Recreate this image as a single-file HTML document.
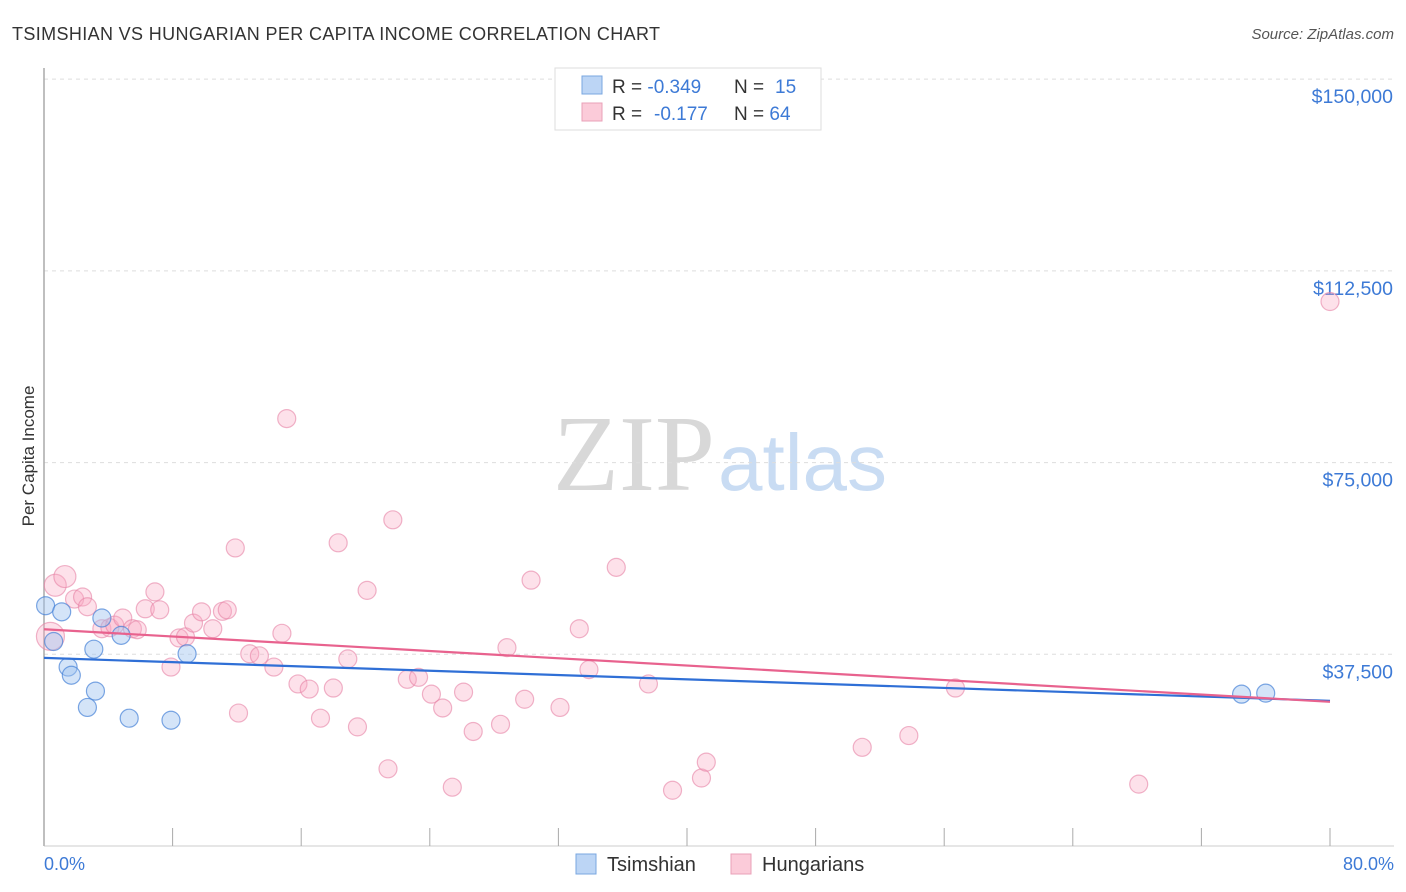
<!DOCTYPE html>
<html><head><meta charset="utf-8"><style>
body{margin:0;background:#fff;font-family:"Liberation Sans",sans-serif}
svg{display:block}
</style></head><body>
<svg width="1406" height="892" xmlns="http://www.w3.org/2000/svg">
<text x="12" y="40" font-size="18" fill="#333" textLength="648">TSIMSHIAN VS HUNGARIAN PER CAPITA INCOME CORRELATION CHART</text>
<text x="1394" y="39" font-size="15" fill="#555" text-anchor="end" font-style="italic">Source: ZipAtlas.com</text>
<text x="715" y="490" font-size="108" fill="#d8d8d8" text-anchor="end" font-family="Liberation Serif,serif">ZIP</text>
<text x="718" y="490" font-size="80" fill="#c9dcf3">atlas</text>
<g id="grid"></g>
<line x1="44" y1="68" x2="44" y2="846" stroke="#aaa" stroke-width="1.5"/>
<line x1="44" y1="846" x2="1394" y2="846" stroke="#ccc"/>
<g id="ticks"></g>
<g id="pts"></g>
<g id="lines"></g>
<text x="44" y="870" font-size="18" fill="#3d7ad6">0.0%</text>
<text x="1394" y="870" font-size="18" fill="#3d7ad6" text-anchor="end">80.0%</text>
<text x="34" y="456" font-size="17" fill="#333" text-anchor="middle" transform="rotate(-90 34 456)">Per Capita Income</text>
<g>
<rect x="555" y="68" width="266" height="62" fill="#fff" stroke="#ddd"/>
<rect x="582" y="76" width="20" height="18" fill="#bcd5f5" stroke="#7aa7e0"/>
<rect x="582" y="103" width="20" height="18" fill="#fbcbd9" stroke="#eaa0b8"/>
<text x="612" y="93" font-size="19" fill="#333">R = <tspan fill="#3d7ad6">-0.349</tspan><tspan x="734">N = </tspan><tspan fill="#3d7ad6" x="775">15</tspan></text>
<text x="612" y="120" font-size="19" fill="#333">R = <tspan fill="#3d7ad6" x="654">-0.177</tspan><tspan x="734">N = </tspan><tspan fill="#3d7ad6">64</tspan></text>
</g>
<g>
<rect x="576" y="854" width="20" height="20" fill="#bcd5f5" stroke="#7aa7e0"/>
<text x="607" y="871" font-size="20" fill="#333">Tsimshian</text>
<rect x="731" y="854" width="20" height="20" fill="#fbcbd9" stroke="#eaa0b8"/>
<text x="762" y="871" font-size="20" fill="#333">Hungarians</text>
</g>
</svg>
<script>
const yTicks=[37500,75000,112500,150000];
const yTickLabels=["$37,500","$75,000","$112,500","$150,000"];
const xTicks=[0,10,20,30,40,50,60,70,80,90,100].map(i=>i*0.8);
const tsimX=[0.1,1.1,0.6,1.5,1.7,3.6,4.8,3.1,3.2,2.7,5.3,7.9,8.9,74.5,76.0];
const tsimY=[47000,45800,40000,35000,33400,44600,41200,38500,30300,27100,25000,24600,37600,29700,29900];
const hungX=[0.7,1.3,0.4,1.9,2.4,2.7,3.6,4.1,4.4,4.9,5.5,5.8,6.3,6.9,7.2,7.9,8.4,8.8,9.3,9.8,10.5,11.1,11.4,11.9,12.1,12.8,13.4,14.3,14.8,15.1,15.8,16.5,17.2,18.0,18.3,18.9,19.5,20.1,21.4,21.7,22.6,23.3,24.1,24.8,25.4,26.1,26.7,28.4,28.8,29.9,30.3,32.1,33.3,33.9,35.6,37.6,39.1,40.9,41.2,50.9,53.8,56.7,68.1,80.0];
const hungY=[51000,52700,41000,48300,48700,46800,42500,42700,43200,44600,42500,42300,46400,49700,46200,35000,40700,40900,43600,45800,42500,45900,46200,58300,26000,37600,37200,35000,41600,83600,31700,30700,25000,30900,59300,36600,23300,50000,15100,63800,32600,33000,29700,27000,11500,30100,22400,23800,38800,28700,52000,27100,42500,34500,54500,31700,10900,13300,16400,19300,21600,30900,12100,106500];
const trendStart=[36800,42400];
const trendEnd=[28400,28200];
const X=v=>44+v*16.075, Y=v=>846-v/195.6;
const NS="http://www.w3.org/2000/svg";
function mk(t,a,p){const e=document.createElementNS(NS,t);for(const k in a)e.setAttribute(k,a[k]);p.appendChild(e);return e;}
const grid=document.getElementById('grid'),ticks=document.getElementById('ticks'),pts=document.getElementById('pts'),lines=document.getElementById('lines');
yTicks.forEach((v,i)=>{
 const l=mk('line',{x1:44,x2:1394,y1:Y(v),y2:Y(v),stroke:'#ddd','stroke-dasharray':'4 4'},grid);
 
 
 const t=mk('text',{x:1393,y:Y(v)+24,'font-size':19.5,fill:'#3d7ad6','text-anchor':'end'},grid);
 t.textContent=yTickLabels[i];
 
 
});
xTicks.forEach(v=>{
 const l=mk('line',{x1:X(v),x2:X(v),y1:828,y2:846,stroke:'#aaa'},ticks);
 
 
});
hungX.forEach((x,i)=>{
 const c=mk('circle',{cx:X(x),cy:Y(hungY[i]),r:(i<3?(i==2?14:11):9),fill:'rgba(248,170,196,0.35)',stroke:'rgba(230,130,165,0.6)','stroke-width':1.2},pts);
 
 
});
tsimX.forEach((x,i)=>{
 const c=mk('circle',{cx:X(x),cy:Y(tsimY[i]),r:9,fill:'rgba(160,196,240,0.45)',stroke:'rgba(70,130,215,0.7)','stroke-width':1.2},pts);
 
 
});
const cols=['#2f6fd6','#e8628e'];
[0,1].forEach(i=>{
 const l=mk('line',{x1:X(0),y1:Y(trendStart[i]),x2:X(80),y2:Y(trendEnd[i]),stroke:cols[i],'stroke-width':2.2},lines);
 
 
});
</script>
</body></html>
